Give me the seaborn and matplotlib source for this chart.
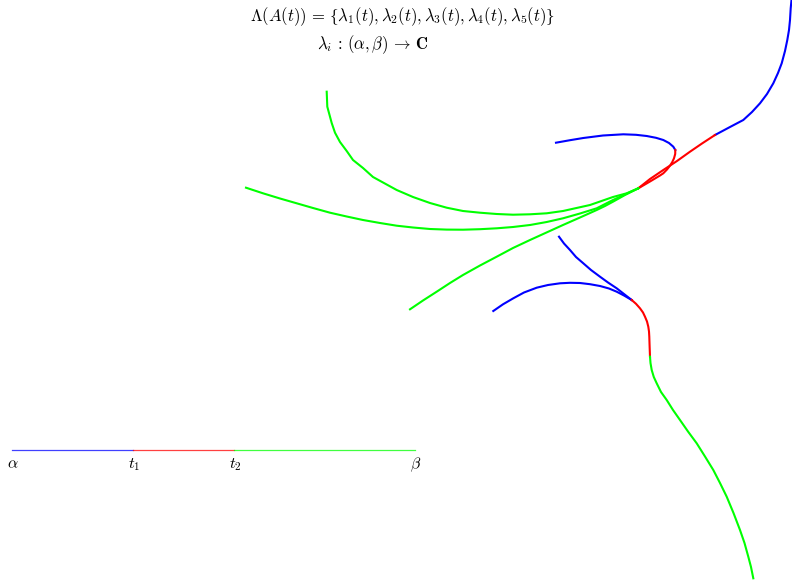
import numpy as np
import pandas as pd
import matplotlib.pyplot as plt
import seaborn as sns

# eigenvalue paths in the plane (screen-like coords, y grows downward)
# upper cluster: three eigenvalues meeting near (638, 188)
u1_blue_x = [791.5, 790.7, 790, 789, 787.3, 785, 781.7, 778, 773.3, 767, 760, 752, 743.3, 730, 715]
u1_blue_y = [0, 8.3, 20, 30, 40, 51, 63.3, 73, 83.3, 94, 103.3, 112, 120, 127, 135]
u1_red_x = [715, 702, 690, 677, 663.3, 650, 638.3]
u1_red_y = [135, 143.5, 151.7, 161, 170, 179, 188.3]

u2_blue_x = [556, 570, 583.3, 603, 623.3, 636, 646.7, 656, 663.3, 669, 673.3, 675.3]
u2_blue_y = [142.7, 140.2, 138, 135.5, 134.3, 134.8, 136, 137.8, 140, 143, 146.7, 150]
u2_red_x = [675.3, 675.2, 674, 672.3, 670, 667, 663.3, 660, 655, 650, 644, 638.3]
u2_red_y = [150, 154, 158.3, 162, 165.7, 169.5, 173.3, 175.5, 178.5, 181.5, 185, 188.3]

g1_x = [638.3, 626.7, 613, 590, 563, 546.7, 530, 513, 496.7, 480, 463, 446.7,
        430, 413, 396.7, 373, 363, 353, 346.7, 340, 335, 331.7, 327.3, 326.7]
g1_y = [188.3, 193.3, 197, 205, 211, 213.3, 214.3, 214.7, 214, 212.7, 211, 207.7,
        203, 197, 190, 177, 168, 160, 151, 142, 132.7, 123, 106.7, 91.7]
g2_x = [638.3, 626, 613, 596.7, 580, 563, 546.7, 530, 513, 496.7, 480, 463, 446.7,
        430, 413, 396.7, 380, 363, 346.7, 330, 313, 296.7, 280, 263, 246]
g2_y = [188.3, 194, 200, 208.3, 213.5, 218.3, 222, 225, 227, 228.3, 229.2, 229.7, 229.6,
        229, 227.5, 225.7, 223, 220, 216.5, 212.7, 208, 203.3, 198.5, 193.3, 187.7]
g3_x = [638.3, 625, 613, 605, 596.7, 580, 563, 546.5, 530, 513, 496.7, 480, 463, 450, 436.7, 423, 410]
g3_y = [188.3, 195, 201.7, 206, 210, 217.5, 225, 232.5, 240, 248, 256.7, 265.5, 275, 283, 291.7, 300.5, 309.3]

# lower cluster: two eigenvalues merging near (632, 300)
l1_blue_x = [559, 564, 570, 576, 583.3, 591, 600, 608, 616.7, 624, 631.7]
l1_blue_y = [236.7, 243.5, 250, 257, 263.3, 270, 276.7, 282.5, 288.3, 294, 300]
l2_blue_x = [493.3, 503, 513.3, 524, 536.7, 548, 560, 570, 580, 590, 600, 609, 616.7, 624, 631.7]
l2_blue_y = [311, 304.3, 298.3, 292.5, 287.7, 285, 283.3, 282.8, 283, 284.2, 286, 288.5, 291.7, 295.5, 300]
l_red_x = [631.7, 636, 640, 643, 645, 647, 648.3, 649, 649.3, 649.6, 650]
l_red_y = [300, 303.8, 308.3, 312.5, 316.7, 321.5, 326.7, 331.5, 336.7, 346, 356.7]
l_green_x = [650, 650.5, 651.7, 653.8, 656.7, 661, 666.7, 673, 680, 688, 696.7, 705, 713.3,
             720, 726.7, 733.5, 740, 744.5, 748.3, 751, 753.3]
l_green_y = [356.7, 363, 370, 377, 383.3, 392, 400, 410, 420, 431.5, 443.3, 456.5, 470,
             483, 496.7, 513, 530, 543, 556.7, 567, 578.3]

# parameter interval alpha < t1 < t2 < beta
interval_x = [12, 133, 234, 415]
interval_labels = [r'$\alpha$', r'$t_1$', r'$t_2$', r'$\beta$']
interval_y = 450

plt.rcParams['mathtext.fontset'] = 'cm'
fig = plt.figure(figsize=(7.92, 5.80), dpi=100)
ax = fig.add_axes([0, 0, 1, 1])

blue, red, green = '#0000ff', '#ff0000', '#00ff00'
segments = [
    (u1_blue_x, u1_blue_y, blue), (u1_red_x, u1_red_y, red),
    (u2_blue_x, u2_blue_y, blue), (u2_red_x, u2_red_y, red),
    (g1_x, g1_y, green), (g2_x, g2_y, green), (g3_x, g3_y, green),
    (l1_blue_x, l1_blue_y, blue), (l2_blue_x, l2_blue_y, blue),
    (l_red_x, l_red_y, red), (l_green_x, l_green_y, green),
]
for xs, ys, c in segments:
    sns.lineplot(x=xs, y=ys, sort=False, estimator=None, color=c, lw=1.5, ax=ax)
for line in ax.get_lines():
    line.set_solid_joinstyle('round')

# interval bar
for (a, b), c in zip(zip(interval_x[:-1], interval_x[1:]), [blue, red, green]):
    sns.lineplot(x=[a, b], y=[interval_y, interval_y], sort=False, estimator=None,
                 color=c, lw=0.9, alpha=0.75, ax=ax)
for x, lab in zip(interval_x, interval_labels):
    ax.text(x + 1, interval_y + 6, lab, ha='center', va='top', fontsize=11.5)

ax.text(403, 17, r'$\Lambda(A(t))\,=\,\lbrace\lambda_1(t), \lambda_2(t), \lambda_3(t), \lambda_4(t), \lambda_5(t)\rbrace$',
        ha='center', va='center', fontsize=12)
ax.text(373, 45, r'$\lambda_i\,:\,(\alpha, \beta)\,\rightarrow\,\mathbf{C}$',
        ha='center', va='center', fontsize=12)

ax.set_xlim(0, 792)
ax.set_ylim(580, 0)
ax.axis('off')
fig.savefig('out.png', dpi=100)
